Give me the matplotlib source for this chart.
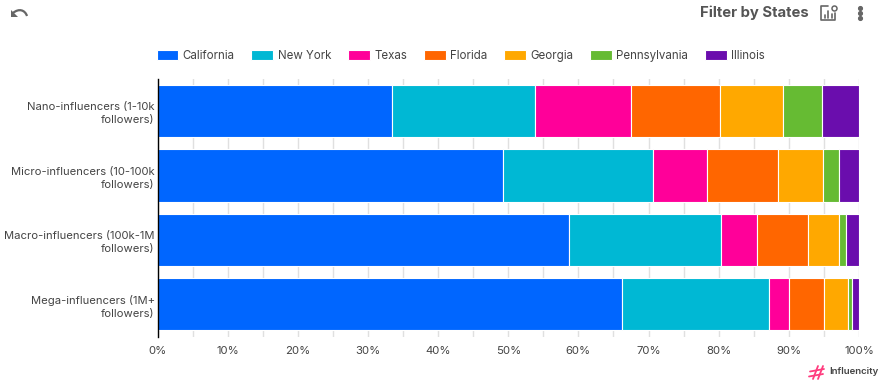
import matplotlib
matplotlib.use('Agg')
import matplotlib.pyplot as plt
from matplotlib.lines import Line2D
from matplotlib.patches import Polygon, PathPatch
from matplotlib.path import Path
import numpy as np

plt.rcParams['font.family'] = ['Inter', 'DejaVu Sans']

W, H = 881, 381

categories = ['Nano-influencers (1-10k\nfollowers)',
              'Micro-influencers (10-100k\nfollowers)',
              'Macro-influencers (100k-1M\nfollowers)',
              'Mega-influencers (1M+\nfollowers)']
states = ['California', 'New York', 'Texas', 'Florida', 'Georgia', 'Pennsylvania', 'Illinois']
colors = ['#0066ff', '#00b8d4', '#ff0099', '#ff6600', '#ffa800', '#66bb33', '#6a0dad']

california = [33.4, 49.2, 58.6, 66.2]
new_york = [20.4, 21.4, 21.7, 20.9]
texas = [13.7, 7.7, 5.1, 2.9]
florida = [12.7, 10.1, 7.3, 5.0]
georgia = [9.0, 6.4, 4.4, 3.4]
pennsylvania = [5.5, 2.3, 1.0, 0.6]
illinois = [5.3, 2.9, 1.9, 1.0]
series = [california, new_york, texas, florida, georgia, pennsylvania, illinois]

tick_pos = np.arange(0, 101, 10)
tick_labels = ['%d%%' % t for t in tick_pos]

fig = plt.figure(figsize=(W / 100, H / 100), dpi=100)
ax = fig.add_axes([157.5 / W, 1 - 336.5 / H, 701.5 / W, 257.5 / H])

y = np.arange(len(categories))
left = np.zeros(len(categories))
for vals, name, c in zip(series, states, colors):
    ax.barh(y, vals, left=left, height=0.81, color=c, edgecolor='white', linewidth=0.8, label=name, zorder=3)
    left = left + np.array(vals)

ax.set_xlim(0, 100)
ax.set_ylim(3.5, -0.5)
ax.set_yticks(y)
ax.set_yticklabels(categories, fontsize=8.1, color='#444444', linespacing=1.4, ha='right')
ax.set_xticks(tick_pos)
ax.set_xticklabels(tick_labels, fontsize=8.2, color='#444444')
ax.set_xticks(np.arange(5, 100, 10), minor=True)
ax.grid(True, axis='x', which='both', color='#e0e0e0', linewidth=1, zorder=0)
ax.set_axisbelow(True)
ax.tick_params(axis='both', which='both', length=0)
ax.tick_params(axis='x', pad=7)
ax.tick_params(axis='y', pad=2)
for s in ['top', 'right', 'bottom']:
    ax.spines[s].set_visible(False)
ax.spines['left'].set_color('black')
ax.spines['left'].set_linewidth(1)
ax.spines['left'].set_zorder(5)

ax.legend(loc='upper left', bbox_to_anchor=(156.5 / W, 1 - 50 / H), bbox_transform=fig.transFigure,
          ncol=7, frameon=False, fontsize=8.3, labelcolor='#444444', borderpad=0, borderaxespad=0,
          handlelength=1.9, handleheight=0.95, handletextpad=0.36, columnspacing=1.47)

# header
fig.text(809 / W, 1 - 13 / H, 'Filter by States', fontsize=10.7, fontweight='bold', color='#555555', ha='right', va='center')


def line(xs, ys, color='#666666', lw=1.2):
    fig.add_artist(Line2D([v / W for v in xs], [1 - v / H for v in ys], color=color, lw=lw, solid_capstyle='round'))


# undo icon
fig.add_artist(Polygon([(10.5 / W, 1 - 9.5 / H), (10.5 / W, 1 - 16.5 / H), (17.5 / W, 1 - 16.5 / H)],
                       closed=True, transform=fig.transFigure, color='#666666', lw=0))
arc = Path([(13 / W, 1 - 13 / H), (19 / W, 1 - 8 / H), (25 / W, 1 - 10 / H), (27 / W, 1 - 16 / H)],
           [Path.MOVETO, Path.CURVE4, Path.CURVE4, Path.CURVE4])
fig.add_artist(PathPatch(arc, transform=fig.transFigure, fc='none', ec='#666666', lw=1.6))

# chart settings icon
line([828, 821, 821, 835, 835], [6, 6, 20, 20, 13])
for bx, top in [(824.5, 15), (828, 11), (831.5, 14)]:
    line([bx, bx], [18, top])
fig.add_artist(Line2D([833.5 / W], [1 - 7.5 / H], marker='o', ms=3.6, mfc='white', mec='#666666', mew=1.1))

# three dots menu
for dy in [8, 13, 18]:
    fig.add_artist(Line2D([860 / W], [1 - dy / H], marker='o', ms=2.7, color='#666666', lw=0))

# logo
pink = '#ff3d7f'
line([810, 824], [371.5, 369], pink, 1.3)
line([809, 823], [376.5, 374], pink, 1.3)
line([813, 818], [379, 366], pink, 1.3)
line([818, 823], [379, 366], pink, 1.3)
fig.text(829 / W, 1 - 372 / H, 'Influencity', fontsize=6.9, fontweight='semibold', color='#444444', ha='left', va='center')

fig.savefig('out.png', dpi=100)
